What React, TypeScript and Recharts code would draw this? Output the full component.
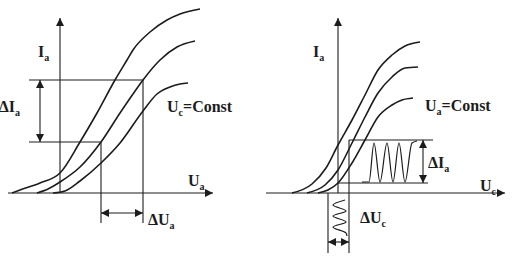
import React from "react";
import { LineChart, Line, XAxis, YAxis, ReferenceLine, ReferenceDot } from "recharts";

// left: anode characteristics Ia(Ua), three grid voltages
const anodeHigh = [
  { u: -4.8, i: 0 }, { u: -4.0, i: 0.3 }, { u: -2.0, i: 1.0 }, { u: 0, i: 2.0 },
  { u: 2.0, i: 5.1 }, { u: 3.7, i: 8.0 }, { u: 5.5, i: 11.3 }, { u: 6.7, i: 13.3 },
  { u: 7.3, i: 14.3 }, { u: 9.0, i: 16.1 }, { u: 10.7, i: 17.3 }, { u: 12.0, i: 17.9 },
  { u: 14.0, i: 18.4 },
];
const anodeMid = [
  { u: -2.3, i: 0 }, { u: -1.2, i: 0.4 }, { u: 0, i: 1.1 }, { u: 2.0, i: 2.6 },
  { u: 4.1, i: 5.1 }, { u: 6.0, i: 8.0 }, { u: 7.3, i: 9.9 }, { u: 8.3, i: 11.3 },
  { u: 10.0, i: 13.3 }, { u: 11.7, i: 14.6 }, { u: 13.5, i: 15.2 },
];
const anodeLow = [
  { u: -0.7, i: 0 }, { u: 0.5, i: 0.2 }, { u: 2.0, i: 1.2 }, { u: 4.1, i: 3.0 },
  { u: 6.0, i: 5.0 }, { u: 8.3, i: 8.2 }, { u: 9.7, i: 9.9 }, { u: 11.0, i: 10.6 },
  { u: 12.0, i: 10.9 }, { u: 12.8, i: 11.0 },
];

// right: grid characteristics Ia(Uc), three anode voltages
const gridHigh = [
  { u: -4.6, i: 0 }, { u: -2.6, i: 0.9 }, { u: -1.2, i: 2.5 }, { u: 0, i: 4.8 },
  { u: 1.4, i: 7.3 }, { u: 2.7, i: 9.8 }, { u: 4.0, i: 12.3 }, { u: 5.4, i: 13.8 },
  { u: 6.7, i: 14.7 }, { u: 8.2, i: 15.1 },
];
const gridMid = [
  { u: -3.1, i: 0 }, { u: -1.3, i: 0.8 }, { u: 0, i: 2.3 }, { u: 1.4, i: 5.0 },
  { u: 2.7, i: 7.6 }, { u: 4.0, i: 10.0 }, { u: 5.4, i: 11.6 }, { u: 6.7, i: 12.5 },
  { u: 8.0, i: 12.6 },
];
const gridLow = [
  { u: -2.0, i: 0 }, { u: -1.0, i: 0.3 }, { u: 0, i: 1.0 }, { u: 1.4, i: 3.0 },
  { u: 2.7, i: 5.3 }, { u: 4.0, i: 7.6 }, { u: 5.4, i: 8.8 }, { u: 6.4, i: 9.3 },
  { u: 7.5, i: 9.5 },
];

// output current swing and input grid swing
const currentSwing = [
  { u: 2.4, i: 1.1 }, { u: 3.1, i: 1.1 }, { u: 3.6, i: 5.0 }, { u: 4.2, i: 1.1 },
  { u: 4.9, i: 5.0 }, { u: 5.5, i: 1.1 }, { u: 6.1, i: 5.0 }, { u: 6.7, i: 1.1 },
  { u: 7.4, i: 5.0 }, { u: 7.9, i: 5.2 },
];
const gridSwing = [
  { u: 0.7, i: -0.7 }, { u: -0.5, i: -1.2 }, { u: 0.8, i: -1.8 }, { u: -0.5, i: -2.3 },
  { u: 0.8, i: -2.9 }, { u: -0.5, i: -3.4 }, { u: 0.8, i: -4.0 }, { u: 0.9, i: -4.3 },
];

// working points
const leftUa = [4.1, 8.3];
const leftIa = [5.1, 11.3];
const rightUc = [-1.0, 1.1];
const rightIa = [1.0, 5.3];

const INK = "#1c1c1c";
const FONT = "Liberation Serif, DejaVu Serif, serif";

function Formula({ cx, cy, main, sub, tail, anchor = "start" }) {
  return (
    <text x={cx} y={cy} style={{ fontFamily: FONT, fontWeight: 700, fontSize: 16 }} fill={INK} textAnchor={anchor}>
      {main}
      <tspan style={{ fontSize: 10 }} dy={4}>{sub}</tspan>
      {tail ? <tspan dy={-4}>{tail}</tspan> : null}
    </text>
  );
}

const label = (key, u, i, main, sub, tail?, anchor?) => (
  <ReferenceDot
    key={key}
    x={u}
    y={i}
    r={0}
    shape={(p) => <Formula cx={p.cx} cy={p.cy} main={main} sub={sub} tail={tail} anchor={anchor} />}
  />
);

const seg = (key, a, b, arrows = 0, marker = "") => (
  <ReferenceLine
    key={key}
    segment={[a, b]}
    stroke={INK}
    strokeWidth={1.1}
    markerEnd={arrows > 0 ? `url(#${marker})` : undefined}
    markerStart={arrows > 1 ? `url(#${marker})` : undefined}
  />
);

function Arrow({ id }) {
  return (
    <defs>
      <marker id={id} viewBox="0 0 10 10" refX={10} refY={5} markerWidth={9} markerHeight={8}
        markerUnits="userSpaceOnUse" orient="auto-start-reverse">
        <path d="M0,0 L10,5 L0,10 z" fill={INK} />
      </marker>
    </defs>
  );
}

const curve = (key, data, type = "monotone", width = 1.6) => (
  <Line key={key} data={data} dataKey="i" type={type} stroke={INK} strokeWidth={width}
    dot={false} activeDot={false} isAnimationActive={false} />
);

function AnodePanel() {
  return (
    <LineChart width={258} height={265} margin={{ top: 0, right: 0, bottom: 0, left: 0 }}>
      <Arrow id="arrL" />
      <XAxis type="number" dataKey="u" domain={[-6, 19.8]} hide allowDataOverflow />
      <YAxis type="number" domain={[-7.2, 19.3]} hide allowDataOverflow />
      {seg("ax", { x: -5.2, y: 0 }, { x: 15.3, y: 0 }, 1, "arrL")}
      {seg("ay", { x: 0, y: 0 }, { x: 0, y: 17.5 }, 1, "arrL")}
      {seg("h2", { x: -3.1, y: leftIa[1] }, { x: leftUa[1], y: leftIa[1] })}
      {seg("h1", { x: -3.1, y: leftIa[0] }, { x: leftUa[0], y: leftIa[0] })}
      {seg("v1", { x: leftUa[0], y: leftIa[0] }, { x: leftUa[0], y: -3.0 })}
      {seg("v2", { x: leftUa[1], y: leftIa[1] }, { x: leftUa[1], y: -3.0 })}
      {seg("di", { x: -2.0, y: leftIa[0] }, { x: -2.0, y: leftIa[1] }, 2, "arrL")}
      {seg("du", { x: leftUa[0], y: -2.0 }, { x: leftUa[1], y: -2.0 }, 2, "arrL")}
      {curve("c1", anodeHigh)}
      {curve("c2", anodeMid)}
      {curve("c3", anodeLow)}
      {label("lI", -2.2, 13.6, "I", "a")}
      {label("ldI", -4.0, 8.1, "ΔI", "a", undefined, "end")}
      {label("lc", 10.7, 8.1, "U", "c", "=Const")}
      {label("lU", 12.8, 0.7, "U", "a")}
      {label("ldU", 8.8, -3.2, "ΔU", "a")}
    </LineChart>
  );
}

function GridPanel() {
  return (
    <LineChart width={258} height={265} margin={{ top: 0, right: 0, bottom: 0, left: 0 }}>
      <Arrow id="arrR" />
      <XAxis type="number" dataKey="u" domain={[-8, 17.8]} hide allowDataOverflow />
      <YAxis type="number" domain={[-7.2, 19.3]} hide allowDataOverflow />
      {seg("ax", { x: -7.2, y: 0 }, { x: 16.7, y: 0 }, 1, "arrR")}
      {seg("ay", { x: 0, y: 0 }, { x: 0, y: 17.5 }, 1, "arrR")}
      {seg("top", { x: rightUc[1], y: rightIa[1] }, { x: 9.5, y: rightIa[1] })}
      {seg("bot", { x: 0, y: rightIa[0] }, { x: 9.0, y: rightIa[0] })}
      {seg("vr", { x: rightUc[1], y: rightIa[1] }, { x: rightUc[1], y: -6.0 })}
      {seg("vl", { x: rightUc[0], y: 0 }, { x: rightUc[0], y: -6.0 })}
      {seg("di", { x: 8.5, y: rightIa[0] }, { x: 8.5, y: rightIa[1] }, 2, "arrR")}
      {seg("du", { x: rightUc[0], y: -4.9 }, { x: rightUc[1], y: -4.9 }, 2, "arrR")}
      {curve("c1", gridHigh)}
      {curve("c2", gridMid)}
      {curve("c3", gridLow)}
      {curve("sw", currentSwing, "monotone", 1.2)}
      {curve("gs", gridSwing, "monotoneY", 1.2)}
      {label("lI", -2.5, 13.6, "I", "a")}
      {label("lc", 8.7, 8.2, "U", "a", "=Const")}
      {label("lU", 14.2, 0.2, "U", "c")}
      {label("ldI", 9.0, 2.5, "ΔI", "a")}
      {label("ldU", 2.2, -3.0, "ΔU", "c")}
    </LineChart>
  );
}

export default function App() {
  return (
    <div style={{ position: "absolute", left: 0, top: 0, width: 516, height: 265, background: "#fff", display: "flex" }}>
      <AnodePanel />
      <GridPanel />
    </div>
  );
}
